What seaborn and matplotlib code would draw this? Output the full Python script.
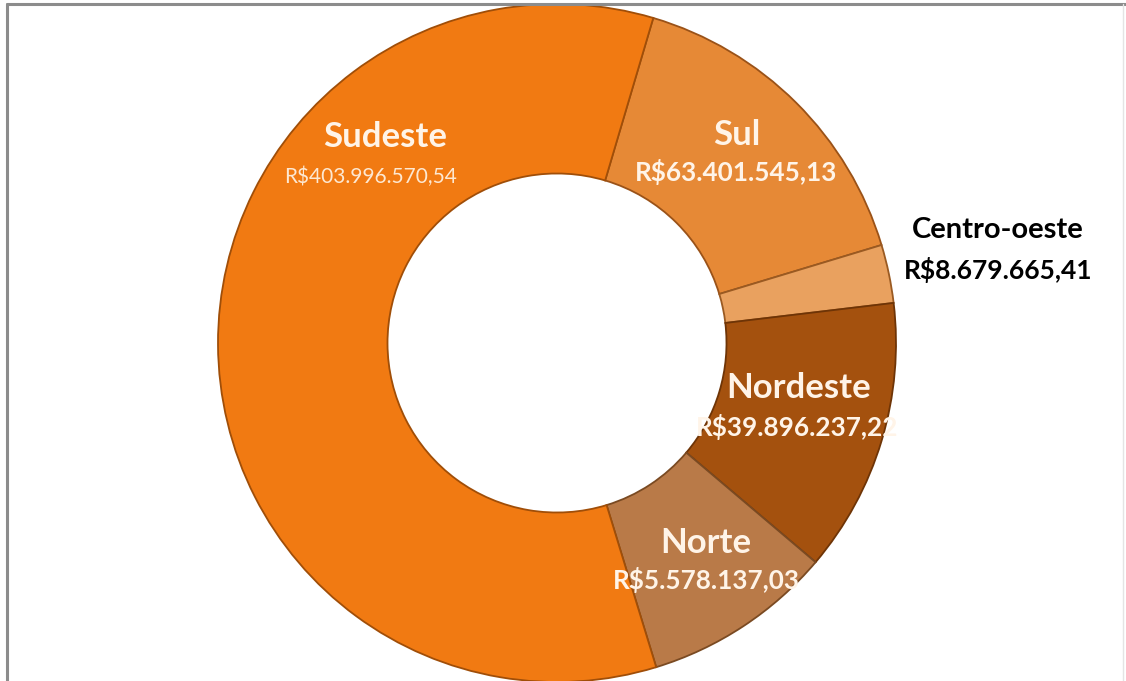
import matplotlib
matplotlib.use("Agg")
import matplotlib.pyplot as plt
from matplotlib.lines import Line2D
import seaborn as sns

# dados (fatias, em % do anel)
regioes = ["Sul", "Centro-oeste", "Nordeste", "Norte", "Sudeste"]
fatias = [15.75, 2.78, 13.08, 9.08, 59.31]
valores = ["R$63.401.545,13", "R$8.679.665,41", "R$39.896.237,22",
           "R$5.578.137,03", "R$403.996.570,54"]
cores = ["#E68936", "#E9A15F", "#A4510E", "#B97A48", "#F17A12"]
bordas = ["#9A5218", "#9A5A22", "#6E3406", "#7A4A22", "#A04E08"]

# posição dos rótulos (nome, valor) em coordenadas do anel
pos_nome = [(0.531, 0.614), (1.301, 0.333), (0.714, -0.133), (0.440, -0.590), (-0.507, 0.608)]
pos_valor = [(0.528, 0.504), (1.301, 0.215), (0.708, -0.248), (0.440, -0.699), (-0.549, 0.490)]

sns.set_theme(style="white")
plt.rcParams['font.family'] = ['Lato', 'DejaVu Sans']

W, H = 1126, 681
fig = plt.figure(figsize=(W / 100, H / 100), dpi=100)
fig.patch.set_facecolor("white")

# moldura cinza
fig.add_artist(Line2D([7 / W, 7 / W], [0, 1 - 4 / H], transform=fig.transFigure,
                      color="#8C8C8C", lw=2.2))
fig.add_artist(Line2D([7 / W, 1], [1 - 4 / H, 1 - 4 / H], transform=fig.transFigure,
                      color="#8C8C8C", lw=2.2))
fig.add_artist(Line2D([1123 / W, 1123 / W], [0, 1 - 4 / H], transform=fig.transFigure,
                      color="#E4E4E4", lw=1))

cx, cy, r = 557, H - 343, 339
ax = fig.add_axes([(cx - r) / W, (cy - r) / H, 2 * r / W, 2 * r / H])

wedges, _ = ax.pie(fatias, colors=cores, startangle=90 - 16.5, counterclock=False,
                   radius=1, wedgeprops=dict(width=0.5, linewidth=1.3))
for w, b in zip(wedges, bordas):
    w.set_edgecolor(b)
    w.set_clip_on(False)
ax.set_xlim(-1, 1)
ax.set_ylim(-1, 1)
ax.axis("off")

for i, nome in enumerate(regioes):
    if nome == "Centro-oeste":
        cor, tam_n, tam_v, peso_v = "black", 21, 19, "bold"
    elif nome == "Sudeste":
        cor, tam_n, tam_v, peso_v = "#FFF4E8", 25, 15, "normal"
    else:
        cor, tam_n, tam_v, peso_v = "#FFF4E8", 25, 18.8, "bold"
    ax.text(*pos_nome[i], nome, ha="center", va="center", color=cor,
            fontsize=tam_n, fontweight="bold")
    ax.text(*pos_valor[i], valores[i], ha="center", va="center",
            color=("#FDE8D2" if nome == "Sudeste" else cor),
            fontsize=tam_v, fontweight=peso_v, clip_on=False)

fig.savefig("out.png", dpi=100)
